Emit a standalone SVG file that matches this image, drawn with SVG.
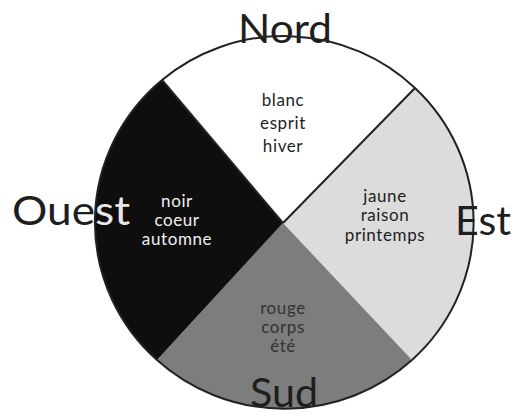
<svg xmlns="http://www.w3.org/2000/svg" width="514" height="415" viewBox="0 0 514 415">
<style>
.big{font-family:"Lato","Liberation Sans",sans-serif;font-size:40px;fill:#1e1e1e}
.sm{font-family:"Lato","Liberation Sans",sans-serif;font-size:17px;letter-spacing:0.6px;text-anchor:middle}
.edge{fill:none;stroke:#222;stroke-width:2}
</style>
<defs>
<clipPath id="blackClip"><path d="M283,223 L157,360 A189,186 0 0 1 162,80 Z"/></clipPath>
</defs>
<rect width="514" height="415" fill="#fff"/>
<g id="nord-sector"><path d="M283,223 L162,80 A189,186 0 0 1 415,88 Z" fill="#ffffff"/></g>
<g id="est-sector"><path d="M283,223 L415,88 A189,186 0 0 1 412,360 Z" fill="#dcdcdc"/></g>
<g id="sud-sector"><path d="M283,223 L412,360 A189,186 0 0 1 157,360 Z" fill="#7d7d7d"/></g>
<g id="ouest-sector"><path d="M283,223 L157,360 A189,186 0 0 1 162,80 Z" fill="#0e0e0e"/></g>
<g id="nord"><text class="big" x="238" y="43" textLength="94" lengthAdjust="spacingAndGlyphs">Nord</text></g>
<g id="ouest"><text class="big" x="12" y="225" textLength="118" lengthAdjust="spacingAndGlyphs">Ouest</text>
<text class="big" x="12" y="225" textLength="118" lengthAdjust="spacingAndGlyphs" clip-path="url(#blackClip)" style="fill:#e8e8e8">Ouest</text></g>
<g id="est"><text class="big" x="455" y="235" textLength="56" lengthAdjust="spacingAndGlyphs">Est</text></g>
<g id="sud"><text class="big" x="250" y="407" textLength="68" lengthAdjust="spacingAndGlyphs">Sud</text></g>
<g id="blanc"><text class="sm" fill="#1e1e1e"><tspan x="283" y="106">blanc</tspan><tspan x="283" y="129">esprit</tspan><tspan x="283" y="152">hiver</tspan></text></g>
<g id="noir"><text class="sm" fill="#f0f0f0"><tspan x="177" y="207">noir</tspan><tspan x="177" y="226">coeur</tspan><tspan x="177" y="245">automne</tspan></text></g>
<g id="jaune"><text class="sm" fill="#1e1e1e"><tspan x="385" y="202">jaune</tspan><tspan x="385" y="221">raison</tspan><tspan x="385" y="241">printemps</tspan></text></g>
<g id="rouge"><text class="sm" fill="#333"><tspan x="283" y="314">rouge</tspan><tspan x="283" y="333">corps</tspan><tspan x="283" y="352">été</tspan></text></g>
<g id="connectors">
<path class="edge" d="M162,80 A189,186 0 0 1 415,88 A189,186 0 0 1 412,360"/>
<path class="edge" d="M412,360 A189,186 0 0 1 157,360 A189,186 0 0 1 162,80" stroke="#333"/>
<line class="edge" x1="283" y1="223" x2="162" y2="80"/>
<line class="edge" x1="283" y1="223" x2="415" y2="88"/>
</g>
</svg>
